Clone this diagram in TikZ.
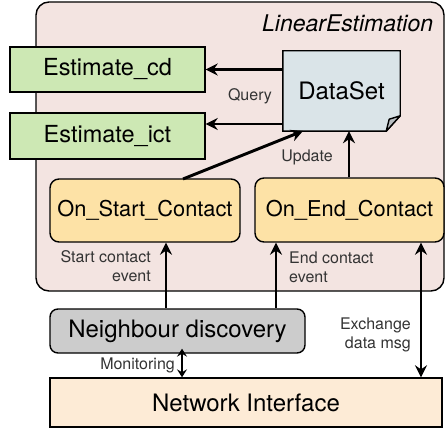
\documentclass[tikz,border=0pt]{standalone}
\usepackage{fontspec}
\setmainfont{TeX Gyre Heros}
\usetikzlibrary{arrows.meta,calc}
\definecolor{contfill}{HTML}{F3E4E1}
\definecolor{estfill}{HTML}{CDE8B4}
\definecolor{dsfill}{HTML}{DAE4E8}
\definecolor{evfill}{HTML}{FDE2A6}
\definecolor{nbfill}{HTML}{CCCCCC}
\definecolor{nifill}{HTML}{FDEBD6}
\definecolor{foldfill}{HTML}{B8BEC2}
\tikzset{
  x=1pt,y=-1pt,
  box/.style={draw=black,line width=1.4pt,inner sep=0pt,font=\fontsize{24}{28}\selectfont},
  estbox/.style={box,fill=estfill,minimum width=195pt,minimum height=45pt,font=\fontsize{23.5}{28}\selectfont},
  evbox/.style={box,fill=evfill,rounded corners=9pt,minimum height=63pt,font=\fontsize{21.8}{26}\selectfont},
  lbl/.style={inner sep=0pt,font=\fontsize{16}{19}\selectfont,text=black!80},
  arr/.style={line width=2.9pt,-{Stealth[length=12pt,width=12pt,inset=4pt]}},
  darr/.style={line width=2.9pt,{Stealth[length=12pt,width=12pt,inset=4pt]}-{Stealth[length=12pt,width=12pt,inset=4pt]}},
}
\begin{document}
\begin{tikzpicture}
\useasboundingbox (0,0) rectangle (445,428);
% container
\path[fill=contfill,draw=black,line width=1.4pt,rounded corners=13pt] (36,2) rectangle (444,291);
\node[anchor=base west,inner sep=0pt,font=\fontsize{23}{27}\selectfont\itshape] (title) at (262,32) {LinearEstimation};

% estimate boxes
\node[estbox] (cd) at (107.5,69.5) {Estimate\_cd};
\node[estbox,minimum height=46pt] (ict) at (107.5,136) {Estimate\_ict};

% DataSet document shape
\node[inner sep=0pt,minimum width=117pt,minimum height=80pt] (ds) at (341.5,91) {};
\path[fill=dsfill,draw=black,line width=1.4pt,line join=miter]
  (ds.north west) -- (ds.north east) -- ($(ds.north east)+(0,65)$) -- ($(ds.south east)+(-14,0)$) -- (ds.south west) -- cycle;
\path[fill=foldfill,draw=black,line width=1.4pt,line join=round]
  ($(ds.south east)+(-14,0)$) -- ($(ds.south east)+(-11,-12)$) -- ($(ds.north east)+(0,65)$) -- cycle;
\node[inner sep=0pt,font=\fontsize{24}{28}\selectfont] (dstext) at (ds.center) {DataSet};

% event boxes
\node[evbox,minimum width=190pt] (osc) at (145,210.5) {On\_Start\_Contact};
\node[evbox,minimum width=189pt,minimum height=64pt] (oec) at (349.5,210) {On\_End\_Contact};

% neighbour discovery
\node[box,fill=nbfill,rounded corners=8pt,minimum width=255pt,minimum height=44pt] (nb) at (177.5,331) {Neighbour discovery};

% network interface
\node[box,fill=nifill,minimum width=392pt,minimum height=49pt] (ni) at (246,402.5) {Network Interface};

% guide coordinates
\coordinate (x349) at (349,0);
\coordinate (x166) at (166,0);
\coordinate (x276) at (276,0);
\coordinate (x421) at (421,0);
\coordinate (x182) at (182,0);
\coordinate (upd1) at (183,179);
\coordinate (upd2) at (303,131);

% connectors
\draw[arr] (cd.east -| ds.west) -- (cd.east);
\draw[arr] ($(ict.east -| ds.west)+(0,-12)$) -- ($(ict.east)+(0,-12)$);
\draw[arr] (upd1) -- (upd2);
\draw[arr] (oec.north -| x349) -- (ds.south -| x349);
\draw[arr] (nb.north -| x166) -- (osc.south -| x166);
\draw[arr] (nb.north -| x276) -- (oec.south -| x276);
\draw[darr] (oec.south -| x421) -- (ni.north -| x421);
\draw[line width=2pt,{Stealth[length=8pt,width=10pt,inset=3pt]}-{Stealth[length=8pt,width=10pt,inset=3pt]}] ($(nb.south -| x182)+(0,-5)$) -- (ni.north -| x182);

% labels
\node[lbl] (q) at (250,96) {Query};
\node[lbl] (u) at (307,157) {Update};
\node[lbl,align=right,anchor=east] (sce) at (151,266.5) {Start contact\\event};
\node[lbl,align=left,anchor=west] (ece) at (289,267.5) {End contact\\event};
\node[lbl,align=right,anchor=east] (ex) at (411,335) {Exchange\\data msg};
\node[lbl,anchor=east] (mon) at (175,365) {Monitoring};
\end{tikzpicture}
\end{document}
